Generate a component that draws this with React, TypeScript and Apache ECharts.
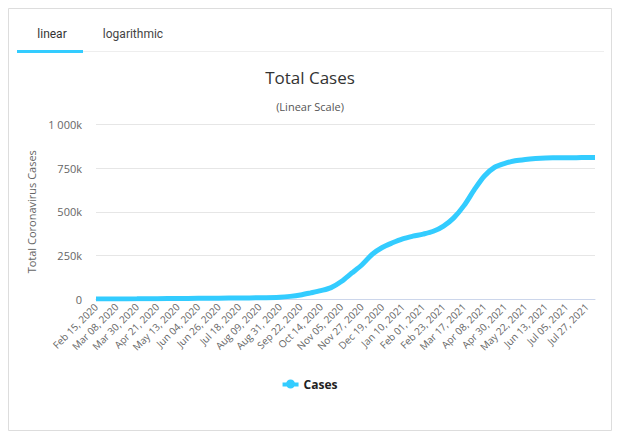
import React, { useEffect, useRef } from "react";
import * as echarts from "echarts";

const sampleDays = [0, 22, 44, 66, 88, 110, 132, 154, 176, 198, 209, 220, 231, 242, 253, 264, 275, 286, 297, 308, 319, 330, 341, 352, 363, 374, 385, 396, 407, 418, 429, 440, 451, 462, 473, 484, 495, 506, 517, 528, 537];
// Total cases in thousands
const caseValues = [0, 0.2, 1, 2, 3, 4, 5, 6, 7, 10, 15, 23, 35, 48, 65, 100, 148, 195, 255, 295, 322, 345, 360, 372, 388, 418, 465, 535, 625, 705, 755, 777, 792, 800, 805, 808, 809, 810, 810, 811, 811];
const yTicks = [0, 250000, 500000, 750000, 1000000];
const startDate = { y: 2020, m: 1, d: 15 };
const dayCount = 538;

const months = ["Jan", "Feb", "Mar", "Apr", "May", "Jun", "Jul", "Aug", "Sep", "Oct", "Nov", "Dec"];

function buildCategories(): string[] {
  const out: string[] = [];
  const base = Date.UTC(startDate.y, startDate.m, startDate.d);
  for (let i = 0; i < dayCount; i++) {
    const dt = new Date(base + i * 86400000);
    const dd = String(dt.getUTCDate()).padStart(2, "0");
    out.push(`${months[dt.getUTCMonth()]} ${dd}, ${dt.getUTCFullYear()}`);
  }
  return out;
}

export default function App() {
  const ref = useRef<HTMLDivElement>(null);
  useEffect(() => {
    if (!ref.current) return;
    const chart = echarts.init(ref.current, null, { renderer: "svg" });
    const categories = buildCategories();
    const data = sampleDays.map((d, i) => [d, caseValues[i] * 1000]);
    const font = "'Open Sans', 'Noto Sans', sans-serif";
    chart.setOption({
      animation: false,
      backgroundColor: "#ffffff",
      textStyle: { fontFamily: font },
      title: [
        {
          text: "Total Cases",
          left: "center",
          top: 64,
          textStyle: { fontSize: 17, fontWeight: "normal", color: "#333333", fontFamily: font },
        },
        {
          text: "(Linear Scale)",
          left: "center",
          top: 96,
          textStyle: { fontSize: 11, fontWeight: "normal", color: "#555555", fontFamily: font },
        },
      ],
      graphic: [
        { type: "rect", shape: { x: 8.5, y: 8.5, width: 603, height: 422 }, style: { fill: "none", stroke: "#dddddd", lineWidth: 1 } },
        { type: "line", shape: { x1: 17, y1: 51.5, x2: 604, y2: 51.5 }, style: { stroke: "#eeeeee", lineWidth: 1 } },
        { type: "rect", shape: { x: 17, y: 50, width: 66, height: 3 }, style: { fill: "#33ccff" } },
        { type: "text", x: 52, y: 34, style: { text: "linear", fill: "#333333", font: "12px Roboto, sans-serif", align: "center", verticalAlign: "middle" } },
        { type: "text", x: 133, y: 34, style: { text: "logarithmic", fill: "#444444", font: "12px Roboto, sans-serif", align: "center", verticalAlign: "middle" } },
      ],
      legend: {
        data: ["Cases"],
        left: "center",
        top: 373,
        itemWidth: 16,
        itemHeight: 9,
        icon: "path://M0,3 L16,3 L16,7 L0,7 Z M8,0 A4.5,4.5 0 1 1 8,9 A4.5,4.5 0 1 1 8,0 Z",
        textStyle: { fontSize: 12, fontWeight: "bold", color: "#222222", fontFamily: font },
      },
      grid: { left: 96, right: 25, top: 124.5, bottom: 138, containLabel: false },
      xAxis: {
        type: "category",
        data: categories,
        boundaryGap: false,
        axisLine: { lineStyle: { color: "#ccd6eb" } },
        axisTick: { show: false },
        axisLabel: {
          interval: 21,
          rotate: 45,
          fontSize: 10,
          color: "#666666",
          margin: 6,
          fontFamily: font,
        },
        splitLine: { show: false },
      },
      yAxis: {
        type: "value",
        min: 0,
        max: 1000000,
        interval: 250000,
        name: "Total Coronavirus Cases",
        nameLocation: "middle",
        nameGap: 50,
        nameTextStyle: { fontSize: 11, color: "#666666", fontFamily: font },
        axisLine: { show: false },
        axisTick: { show: false },
        axisLabel: {
          fontSize: 11,
          color: "#666666",
          margin: 14,
          fontFamily: font,
          formatter: (v: number) => (yTicks.includes(v) ? (v === 0 ? "0" : v === 1000000 ? "1 000k" : `${v / 1000}k`) : ""),
        },
        splitLine: { lineStyle: { color: "#e6e6e6" } },
      },
      series: [
        {
          name: "Cases",
          type: "line",
          data,
          smooth: 0.3,
          showSymbol: false,
          symbol: "none",
          lineStyle: { width: 5, color: "#33ccff" },
          itemStyle: { color: "#33ccff" },
        },
      ],
    });
    return () => chart.dispose();
  }, []);
  return <div ref={ref} style={{ position: "fixed", left: 0, top: 0, width: 620, height: 437 }} />;
}
